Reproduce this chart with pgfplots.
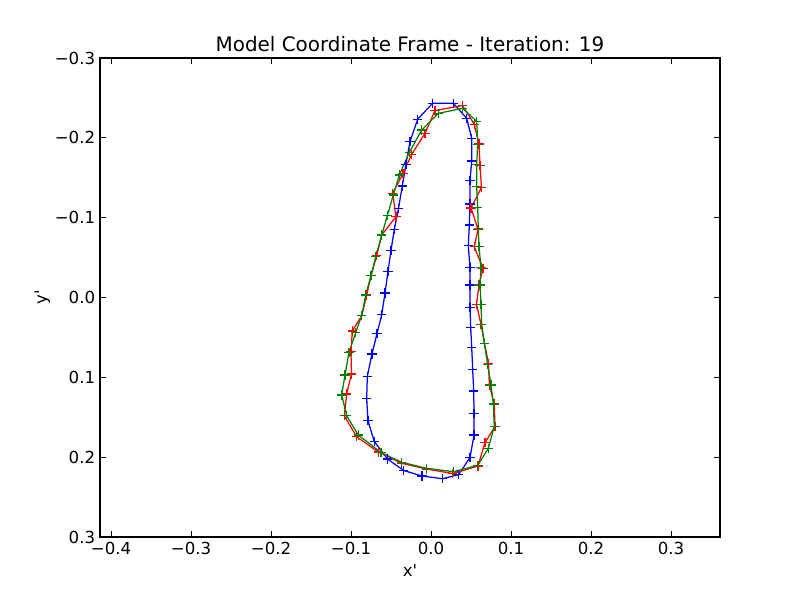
\documentclass[border=0pt]{standalone}
\usepackage{pgfplots}
\pgfplotsset{compat=1.18}
\usepackage{fontspec}
\setmainfont{DejaVu Sans}
\newfontfamily\plainfont{DejaVu Sans}
\definecolor{mgreen}{rgb}{0,0.5,0}
\begin{document}
\begin{tikzpicture}
\begin{axis}[name=ax, at={(0,0)}, anchor=south west,
  scale only axis, width=446.4bp, height=344.88bp,
  xmin=-0.41375, xmax=0.36125, ymin=-0.3, ymax=0.3, y dir=reverse,
  xtick={-0.4,-0.3,-0.2,-0.1,0,0.1,0.2,0.3},
  xticklabels={−0.4,−0.3,−0.2,−0.1,0.0,0.1,0.2,0.3},
  ytick={-0.3,-0.2,-0.1,0,0.1,0.2,0.3},
  yticklabels={−0.3,−0.2,−0.1,0.0,0.1,0.2,0.3},
  tick align=inside, major tick length=4bp,
  tick style={black, line width=0.5bp},
  axis line style={line width=0.8bp},
  ticklabel style={font=\fontsize{12}{14}\selectfont},
  title={Model Coordinate Frame - Iteration: 19},
  title style={font=\fontsize{14.4}{17}\selectfont, at={(0.5,1)}, anchor=south, yshift=-5bp},
  xlabel={{\plainfont x'}}, ylabel={{\plainfont y'}},
  label style={font=\fontsize{12}{14}\selectfont},
  ylabel style={xshift=0bp, yshift=-3.5bp},
  every axis plot/.append style={line width=0.9bp, mark=+, mark size=3.3bp, mark options={solid}},
]
\addplot[blue] coordinates {
(0.0021,-0.2433) (0.0279,-0.2433) (0.0446,-0.2245) (0.0509,-0.1994) (0.0509,-0.1710)
(0.0488,-0.1463) (0.0488,-0.1171) (0.0479,-0.0908) (0.0466,-0.0649) (0.0488,-0.0378)
(0.0488,-0.0157) (0.0488,0.0123) (0.0496,0.0373) (0.0509,0.0624) (0.0521,0.0899)
(0.0534,0.1171) (0.0538,0.1451) (0.0538,0.1722) (0.0488,0.2002) (0.0348,0.2217)
(0.0146,0.2270) (-0.0113,0.2236) (-0.0341,0.2167) (-0.0544,0.2023) (-0.0709,0.1804)
(-0.0788,0.1543) (-0.0804,0.1263) (-0.0796,0.0987) (-0.0738,0.0708) (-0.0675,0.0453)
(-0.0616,0.0215) (-0.0575,-0.0056) (-0.0538,-0.0323) (-0.0500,-0.0589) (-0.0459,-0.0852)
(-0.0406,-0.1117) (-0.0359,-0.1397) (-0.0313,-0.1670) (-0.0263,-0.1952) (-0.0166,-0.2234)
(0.0021,-0.2433)
};
\addplot[red] coordinates {
(0.0050,-0.2342) (0.0394,-0.2405) (0.0541,-0.2170) (0.0600,-0.1923) (0.0613,-0.1654)
(0.0631,-0.1378) (0.0500,-0.1121) (0.0588,-0.0852) (0.0541,-0.0636) (0.0650,-0.0366)
(0.0600,-0.0157) (0.0569,0.0085) (0.0625,0.0336) (0.0669,0.0574) (0.0719,0.0824)
(0.0729,0.1096) (0.0791,0.1334) (0.0800,0.1618) (0.0675,0.1816) (0.0588,0.2111)
(0.0271,0.2205) (-0.0054,0.2148) (-0.0366,0.2077) (-0.0659,0.1935) (-0.0929,0.1744)
(-0.1084,0.1481) (-0.1054,0.1209) (-0.0994,0.0958) (-0.1000,0.0679) (-0.0984,0.0420)
(-0.0866,0.0228) (-0.0804,-0.0031) (-0.0750,-0.0273) (-0.0679,-0.0524) (-0.0616,-0.0783)
(-0.0438,-0.1012) (-0.0479,-0.1305) (-0.0350,-0.1553) (-0.0241,-0.1794) (-0.0075,-0.2057)
(0.0050,-0.2342)
};
\addplot[mgreen] coordinates {
(0.0091,-0.2307) (0.0396,-0.2370) (0.0571,-0.2207) (0.0584,-0.1919) (0.0571,-0.1666)
(0.0571,-0.1388) (0.0584,-0.1125) (0.0591,-0.0867) (0.0600,-0.0636) (0.0625,-0.0373)
(0.0613,-0.0157) (0.0625,0.0085) (0.0634,0.0336) (0.0666,0.0574) (0.0709,0.0839)
(0.0750,0.1096) (0.0779,0.1334) (0.0791,0.1618) (0.0716,0.1889) (0.0584,0.2104)
(0.0279,0.2182) (-0.0054,0.2140) (-0.0366,0.2064) (-0.0625,0.1942) (-0.0909,0.1722)
(-0.1054,0.1481) (-0.1116,0.1221) (-0.1075,0.0971) (-0.1025,0.0689) (-0.0941,0.0436)
(-0.0866,0.0228) (-0.0816,-0.0031) (-0.0750,-0.0273) (-0.0691,-0.0511) (-0.0616,-0.0783)
(-0.0546,-0.1025) (-0.0471,-0.1284) (-0.0396,-0.1535) (-0.0271,-0.1819) (-0.0116,-0.2098)
(0.0091,-0.2307)
};
\end{axis}
\pgfresetboundingbox
\path ([shift={(-72bp,-43.2bp)}]ax.south west) rectangle ([shift={(57.6bp,41.76bp)}]ax.north east);
\end{tikzpicture}
\end{document}
